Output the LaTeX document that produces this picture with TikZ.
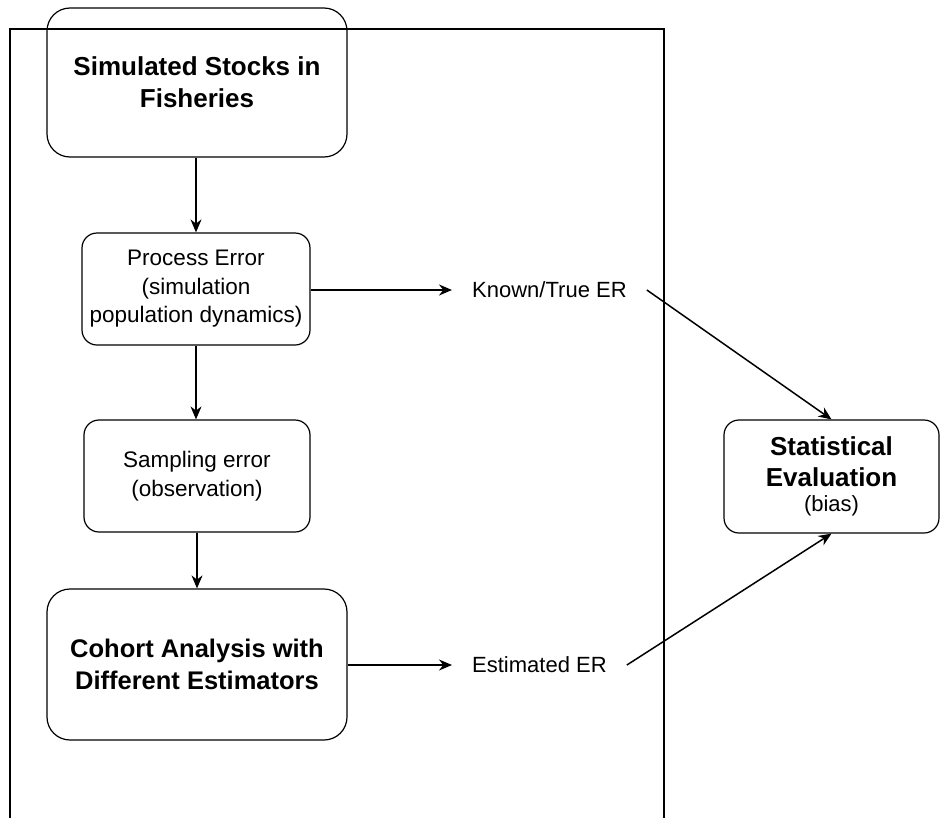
\documentclass[tikz,border=0pt]{standalone}
\usepackage{fontspec}
\setmainfont{Liberation Sans}
\usetikzlibrary{arrows.meta}
\tikzset{
  box/.style={draw, line width=1.2pt, rectangle, inner sep=0pt, align=center, fill=none},
  bigbox/.style={box, rounded corners=23pt, minimum width=300pt},
  smallbox/.style={box, rounded corners=15pt},
  boldtxt/.style={font=\fontsize{26}{32}\selectfont\bfseries},
  regtxt/.style={font=\fontsize{22.5}{28.5}\selectfont},
  lbl/.style={inner xsep=20pt, inner ysep=0pt, font=\fontsize{22}{26}\selectfont},
  arr/.style={line width=1.5pt, -{Stealth[length=13pt,width=11pt]}},
  frame/.style={line width=2pt}
}
\begin{document}
\begin{tikzpicture}[x=1pt,y=-1pt]
\useasboundingbox (0,0) rectangle (940,817);
% outer frame (bottom open)
\draw[frame] (10,820) -- (10,29) -- (664,29) -- (664,820);
% nodes
\node[bigbox, boldtxt, minimum height=149pt] (top) at (197,82.5)
  {Simulated Stocks in\\Fisheries};
\node[smallbox, regtxt, minimum width=228pt, minimum height=112pt] (proc) at (196,289)
  {Process Error\\(simulation\\population dynamics)};
\node[smallbox, regtxt, minimum width=226pt, minimum height=112pt] (samp) at (197,476)
  {Sampling error\\(observation)};
\node[bigbox, boldtxt, font=\fontsize{25.5}{32}\selectfont\bfseries, minimum height=151pt] (coh) at (197,664.5)
  {Cohort Analysis with\\Different Estimators};
\node[smallbox, boldtxt, font=\fontsize{26}{31}\selectfont\bfseries, minimum width=215pt, minimum height=113pt] (stat) at (831.5,476.5)
  {Statistical\\Evaluation\\[-6pt]\fontsize{22}{24}\selectfont\mdseries (bias)};
\node[lbl, anchor=west] (known) at (452,290) {Known/True ER};
\node[lbl, anchor=west] (est) at (452,665) {Estimated ER};
% connectors
\draw[arr] (top.south -| proc.north) -- (proc.north);
\draw[arr] (proc.south) -- (samp.north -| proc.south);
\draw[arr] (samp.south) -- (coh.north -| samp.south);
\draw[arr] (proc.east |- known.west) -- (known.west);
\draw[arr] (coh.east |- est.west) -- (est.west);
\draw[arr] (known.east) -- (stat.north);
\draw[arr] (est.east) -- (stat.south);
\end{tikzpicture}
\end{document}
